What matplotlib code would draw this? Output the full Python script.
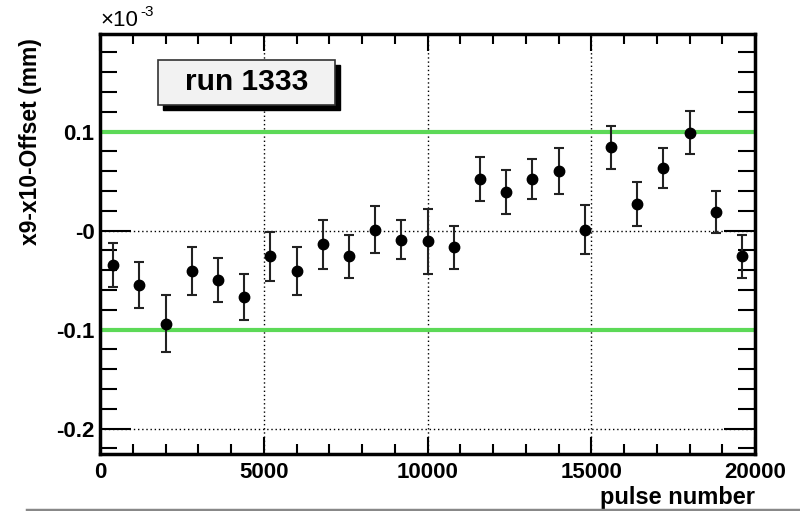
import matplotlib
matplotlib.use("Agg")
import matplotlib.pyplot as plt
from matplotlib.patches import Rectangle
from matplotlib.ticker import MultipleLocator, FixedLocator
from matplotlib.lines import Line2D

plt.rcParams["font.family"] = ["Liberation Sans", "DejaVu Sans"]
plt.rcParams["font.weight"] = "bold"

# =========================
# DATA (values in units of 1e-3 mm)
# =========================
pulse = [400, 1200, 2000, 2800, 3600, 4400, 5200, 6000, 6800, 7600,
         8400, 9200, 10000, 10800, 11600, 12400, 13200, 14000, 14800,
         15600, 16400, 17200, 18000, 18800, 19600]
offset = [-0.035, -0.055, -0.094, -0.041, -0.050, -0.067, -0.026, -0.041,
          -0.014, -0.026, 0.001, -0.009, -0.011, -0.017, 0.052, 0.039,
          0.052, 0.060, 0.001, 0.084, 0.027, 0.063, 0.099, 0.019, -0.026]
err = [0.022, 0.023, 0.029, 0.024, 0.022, 0.023, 0.025, 0.024, 0.025,
       0.022, 0.024, 0.020, 0.033, 0.022, 0.022, 0.022, 0.020, 0.023,
       0.025, 0.022, 0.022, 0.020, 0.022, 0.021, 0.022]
limits = [0.1, -0.1]
yticks = [-0.2, -0.1, 0.0, 0.1]
ytick_labels = ["-0.2", "-0.1", "-0", "0.1"]
xticks = [0, 5000, 10000, 15000, 20000]
run_label = "run 1333"

# =========================
# FIGURE
# =========================
fig = plt.figure(figsize=(8, 5.11), dpi=100)
ax = fig.add_axes([0.125, 0.1115, 0.81875, 0.8229])

ax.set_xlim(0, 20000)
ax.set_ylim(-0.2256, 0.199)

# grid (dotted) at major ticks
for gx in [5000, 10000, 15000]:
    ax.axvline(gx, color="black", lw=1, ls=(0, (1, 2)), zorder=1)
for gy in yticks:
    ax.axhline(gy, color="black", lw=1, ls=(0, (1, 2)), zorder=1)

# green limit lines
for lim in limits:
    ax.axhline(lim, color="#5cd957", lw=3, zorder=2)

ax.errorbar(pulse, offset, yerr=err, fmt="o", color="black", ms=7.5,
            ecolor="#222222", elinewidth=1.5, capsize=3.5, capthick=1.5,
            zorder=3)

# ticks
ax.xaxis.set_major_locator(FixedLocator(xticks))
ax.xaxis.set_minor_locator(MultipleLocator(1000))
ax.yaxis.set_major_locator(FixedLocator(yticks))
ax.yaxis.set_minor_locator(MultipleLocator(0.02))
ax.set_yticklabels(ytick_labels)
ax.tick_params(which="both", direction="in", top=True, right=True,
               width=1.5, labelsize=16)
ax.tick_params(axis="x", which="major", length=12, pad=6)
ax.tick_params(axis="x", which="minor", length=7)
ax.tick_params(axis="y", which="major", length=22, pad=4)
ax.tick_params(axis="y", which="minor", length=12)
for lbl in ax.get_xticklabels() + ax.get_yticklabels():
    lbl.set_fontweight("bold")

for sp in ax.spines.values():
    sp.set_linewidth(2.5)

ax.set_xlabel("pulse number", fontsize=17, fontweight="bold")
ax.xaxis.set_label_coords(1.0, -0.075)
ax.xaxis.label.set_horizontalalignment("right")
ax.set_ylabel("x9-x10-Offset (mm)", fontsize=16.5, fontweight="bold")
ax.yaxis.set_label_coords(-0.088, 0.99)
ax.yaxis.label.set_horizontalalignment("right")

# exponent label
ax.text(0.0, 1.005, "\u00d710", transform=ax.transAxes,
        fontsize=16, ha="left", va="bottom", fontweight="normal")
ax.text(0.062, 1.035, "-3", transform=ax.transAxes,
        fontsize=11, ha="left", va="bottom", fontweight="normal")

# run box with shadow
bx0, by0, bw, bh = 158, 511 - 105, 177, 45
fig.patches.append(Rectangle((bx0 + 5, by0 - 5), bw, bh, transform=None,
                             facecolor="black", edgecolor="black", zorder=5))
fig.patches.append(Rectangle((bx0, by0), bw, bh, transform=None,
                             facecolor="#f2f2f2", edgecolor="#333333",
                             lw=1.2, zorder=6))
fig.text((bx0 + bw / 2) / 800, (by0 + bh / 2) / 511, run_label,
         fontsize=21.5, fontweight="bold", ha="center", va="center", zorder=7)

# bottom gray rule
fig.lines.append(Line2D([27 / 800, 1.0], [1.5 / 511, 1.5 / 511],
                        transform=fig.transFigure, color="#888888", lw=2.5))

plt.savefig("out.png", dpi=100)
